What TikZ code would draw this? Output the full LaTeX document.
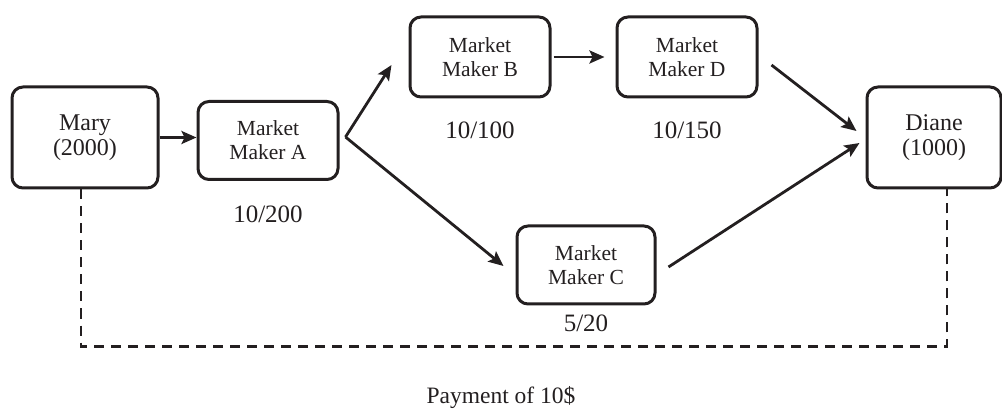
\documentclass[tikz,border=0pt]{standalone}
\usepackage{fontspec}
\setmainfont{Liberation Serif}
\usetikzlibrary{arrows.meta,calc}
\definecolor{ink}{HTML}{231F20}
\tikzset{
  party/.style={draw=ink, line width=3pt, rounded corners=11pt, align=center,
    text=ink, minimum width=146pt, minimum height=101pt, inner sep=0pt,
    font=\fontsize{24}{25}\selectfont},
  maker/.style={draw=ink, line width=3pt, rounded corners=11pt, align=center,
    text=ink, minimum width=140pt, minimum height=78pt, inner sep=0pt,
    font=\fontsize{21.5}{24}\selectfont},
  rate/.style={text=ink, inner sep=0pt, font=\fontsize{25}{27}\selectfont},
  flow/.style={draw=ink, line width=2.8pt,
    -{Stealth[length=15pt,width=13pt,inset=3pt]}},
  pay/.style={draw=ink, line width=2.8pt, dash pattern=on 10pt off 7pt}
}
\begin{document}
\begin{tikzpicture}[x=1pt,y=-1pt]
  \useasboundingbox (0,0) rectangle (1002,414);

  % parties
  \node[party] (mary)  at (85,137.5)  {Mary\\(2000)};
  \node[party, minimum width=134pt] (diane) at (934,137.5) {Diane\\(1000)};

  % market makers
  \node[maker] (mma) at (268,140.5) {Market\\Maker A};
  \node[maker, minimum height=80pt] (mmb) at (480,57) {Market\\Maker B};
  \node[maker, minimum height=80pt] (mmd) at (687,57) {Market\\Maker D};
  \node[maker, minimum width=138pt] (mmc) at (586,265) {Market\\Maker C};

  % fee labels
  \node[rate] (fa) at (268,214) {10/200};
  \node[rate] (fb) at (480,130) {10/100};
  \node[rate] (fd) at (687,130) {10/150};
  \node[rate] (fc) at (586,323) {5/20};
  \node[rate, font=\fontsize{23.5}{26}\selectfont] (payment) at (501,398) {Payment of 10\$};

  % routing of the payment
  \coordinate (split) at ($(mma.east)+(6,-3.5)$);
  \draw[flow] (mary.east) -- (mary.east -| mma.west);
  \draw[flow] (split) -- ($(mmb.west)+(-17,8)$);
  \draw[flow] (split) -- ($(mmc.west)+(-12,1)$);
  \draw[flow, shorten <=2pt] (mmb.east) -- ($(mmd.west)+(-11,0)$);
  \draw[flow] ($(mmd.east)+(13,8)$) -- ($(diane.west)+(-9,-6.5)$);
  \draw[flow] ($(mmc.east)+(12,2)$) -- ($(diane.west)+(-6,5.5)$);

  % overall settlement
  \draw[pay] ([xshift=-4pt]mary.south) -- ++(0,157) -| ([xshift=13pt]diane.south);
\end{tikzpicture}
\end{document}
